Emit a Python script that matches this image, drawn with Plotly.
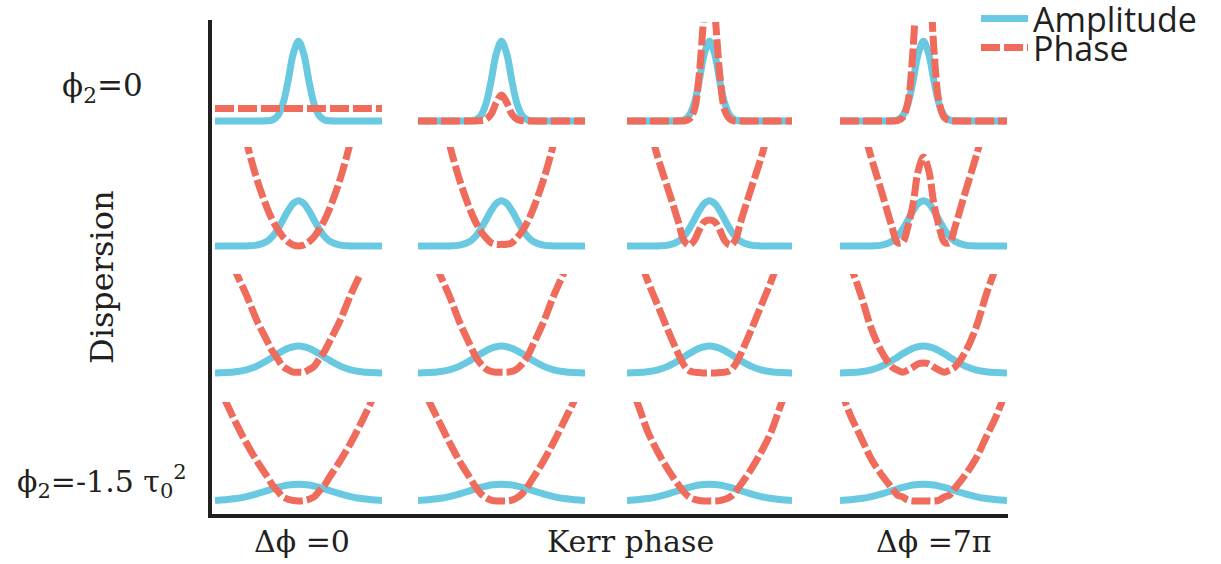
import plotly.graph_objects as go
from plotly.subplots import make_subplots

# Normalised time axis (pulse widths in units of tau_0)
t = [-4, -3.5, -3, -2.5, -2, -1.5, -1.25, -1, -0.75, -0.5, -0.25, 0,
     0.25, 0.5, 0.75, 1, 1.25, 1.5, 2, 2.5, 3, 3.5, 4]

# Amplitude envelopes, one per dispersion row (top: phi2 = 0, bottom: phi2 = -1.5 tau0^2)
amp_row1 = [0, 0, 0, 0, 0, 0.002, 0.012, 0.06, 0.2, 0.475, 0.8, 0.95,
            0.8, 0.475, 0.2, 0.06, 0.012, 0.002, 0, 0, 0, 0, 0]
amp_row2 = [0, 0, 0, 0.001, 0.01, 0.057, 0.113, 0.199, 0.307, 0.42, 0.507, 0.54,
            0.507, 0.42, 0.307, 0.199, 0.113, 0.057, 0.01, 0.001, 0, 0, 0]
amp_row3 = [0.001, 0.005, 0.015, 0.038, 0.082, 0.149, 0.188, 0.228, 0.264, 0.294, 0.313, 0.32,
            0.313, 0.294, 0.264, 0.228, 0.188, 0.149, 0.082, 0.038, 0.015, 0.005, 0.001]
amp_row4 = [0.007, 0.015, 0.029, 0.053, 0.085, 0.123, 0.143, 0.162, 0.177, 0.19, 0.197, 0.2,
            0.197, 0.19, 0.177, 0.162, 0.143, 0.123, 0.085, 0.053, 0.029, 0.015, 0.007]

# Phase profiles, columns go from no Kerr phase to 7*pi Kerr phase
ph_r1c1 = [0.15, 0.15, 0.15, 0.15, 0.15, 0.15, 0.15, 0.15, 0.15, 0.15, 0.15, 0.15,
           0.15, 0.15, 0.15, 0.15, 0.15, 0.15, 0.15, 0.15, 0.15, 0.15, 0.15]
ph_r1c2 = [0, 0, 0, 0, 0, 0, 0, 0.005, 0.02, 0.08, 0.22, 0.31,
           0.22, 0.08, 0.02, 0.005, 0, 0, 0, 0, 0, 0, 0]
ph_r1c3 = [0, 0, 0, 0, 0, 0, 0, 0.02, 0.12, 0.55, 1.3, 1.75,
           1.3, 0.55, 0.12, 0.02, 0, 0, 0, 0, 0, 0, 0]
ph_r1c4 = [0, 0, 0, 0, 0, 0, 0.003, 0.04, 0.22, 0.85, 2.0, 2.6,
           2.0, 0.85, 0.22, 0.04, 0.003, 0, 0, 0, 0, 0, 0]

ph_r2c1 = [3.2, 2.45, 1.8, 1.25, 0.8, 0.45, 0.31, 0.2, 0.11, 0.05, 0.012, 0,
           0.012, 0.05, 0.11, 0.2, 0.31, 0.45, 0.8, 1.25, 1.8, 2.45, 3.2]
ph_r2c2 = [3.1, 2.4, 1.78, 1.22, 0.78, 0.43, 0.29, 0.18, 0.1, 0.04, 0.02, 0.02,
           0.02, 0.04, 0.1, 0.18, 0.29, 0.43, 0.78, 1.22, 1.78, 2.4, 3.1]
ph_r2c3 = [2.6, 2.0, 1.5, 1.05, 0.67, 0.28, 0.07, 0.01, 0.06, 0.19, 0.29, 0.31,
           0.29, 0.19, 0.06, 0.01, 0.07, 0.28, 0.67, 1.05, 1.5, 2.0, 2.6]
ph_r2c4 = [2.6, 2.0, 1.5, 1.05, 0.64, 0.22, 0.04, 0.045, 0.23, 0.5, 0.9, 1.06,
           0.9, 0.5, 0.23, 0.045, 0.04, 0.22, 0.64, 1.05, 1.5, 2.0, 2.6]

ph_r3c1 = [1.8, 1.5, 1.2, 0.93, 0.63, 0.38, 0.26, 0.17, 0.08, 0.04, 0.01, 0.01,
           0.01, 0.04, 0.08, 0.17, 0.26, 0.38, 0.63, 0.93, 1.2, 1.5, 1.8]
ph_r3c2 = [1.8, 1.5, 1.2, 0.92, 0.6, 0.33, 0.2, 0.11, 0.05, 0.02, 0.01, 0.01,
           0.01, 0.02, 0.05, 0.11, 0.2, 0.33, 0.6, 0.92, 1.2, 1.5, 1.8]
ph_r3c3 = [1.8, 1.45, 1.1, 0.8, 0.5, 0.22, 0.1, 0.03, 0.01, 0.005, 0, 0,
           0, 0.005, 0.01, 0.03, 0.1, 0.22, 0.5, 0.8, 1.1, 1.45, 1.8]
ph_r3c4 = [1.6, 1.28, 0.93, 0.53, 0.25, 0.07, 0.035, 0.01, 0.035, 0.07, 0.11, 0.12,
           0.11, 0.07, 0.035, 0.01, 0.035, 0.07, 0.25, 0.53, 0.93, 1.28, 1.6]

ph_r4c1 = [1.45, 1.19, 0.93, 0.69, 0.48, 0.29, 0.19, 0.12, 0.05, 0.02, 0.005, 0,
           0.005, 0.02, 0.05, 0.12, 0.19, 0.29, 0.48, 0.69, 0.93, 1.19, 1.45]
ph_r4c2 = [1.45, 1.2, 0.95, 0.7, 0.47, 0.27, 0.17, 0.09, 0.04, 0.01, 0, 0,
           0, 0.01, 0.04, 0.09, 0.17, 0.27, 0.47, 0.7, 0.95, 1.2, 1.45]
ph_r4c3 = [1.45, 1.17, 0.83, 0.58, 0.37, 0.19, 0.11, 0.05, 0.02, 0.005, 0, 0,
           0, 0.005, 0.02, 0.05, 0.11, 0.19, 0.37, 0.58, 0.83, 1.17, 1.45]
ph_r4c4 = [1.35, 1.02, 0.76, 0.5, 0.31, 0.15, 0.07, 0.05, 0.01, 0, 0, 0,
           0, 0, 0.01, 0.05, 0.07, 0.15, 0.31, 0.5, 0.76, 1.02, 1.35]

amplitudes = [amp_row1, amp_row2, amp_row3, amp_row4]
phases = [
    [ph_r1c1, ph_r1c2, ph_r1c3, ph_r1c4],
    [ph_r2c1, ph_r2c2, ph_r2c3, ph_r2c4],
    [ph_r3c1, ph_r3c2, ph_r3c3, ph_r3c4],
    [ph_r4c1, ph_r4c2, ph_r4c3, ph_r4c4],
]

row_labels = ["ϕ<sub>2</sub>=0", "ϕ<sub>2</sub>=-1.5 τ<sub>0</sub><sup>2</sup>"]
side_label = "Dispersion"
bottom_labels = ["Δϕ =0", "Kerr phase", "Δϕ =7π"]

BLUE = "#68c9e1"
RED = "#ef6b5c"
INK = "#231f20"
SERIF = "DejaVu Serif"

W, H = 1221, 564
Y_RANGE = [-0.1, 1.18]
UNIT_PX = 84.0                       # pixels per unit of amplitude/phase
row_base_px = [121, 246, 373, 501]   # baseline of each row
col_left_px = [215, 418, 627, 840]
col_right_px = [382, 585, 792, 1007]

fig = make_subplots(rows=4, cols=4)

for r in range(4):
    for c in range(4):
        first = (r == 0 and c == 0)
        fig.add_trace(go.Scatter(
            x=t, y=amplitudes[r], mode="lines", line_shape="spline",
            line=dict(color=BLUE, width=7),
            name="Amplitude", showlegend=first, legend="legend",
            hoverinfo="skip"), row=r + 1, col=c + 1)
        fig.add_trace(go.Scatter(
            x=t, y=phases[r][c], mode="lines", line_shape="spline",
            line=dict(color=RED, width=7, dash="19px,4px"),
            name="Phase", showlegend=first, legend="legend2",
            hoverinfo="skip"), row=r + 1, col=c + 1)

# Place every panel precisely on the page
for r in range(4):
    bottom = row_base_px[r] - Y_RANGE[0] * UNIT_PX
    top = row_base_px[r] - Y_RANGE[1] * UNIT_PX
    for c in range(4):
        n = r * 4 + c + 1
        suffix = "" if n == 1 else str(n)
        fig.layout["xaxis" + suffix].update(
            domain=[col_left_px[c] / W, col_right_px[c] / W],
            range=[-4, 4], visible=False, fixedrange=True)
        fig.layout["yaxis" + suffix].update(
            domain=[1 - bottom / H, 1 - top / H],
            range=Y_RANGE, visible=False, fixedrange=True)

# L-shaped frame
fig.add_shape(type="line", xref="paper", yref="paper",
              x0=210 / W, x1=210 / W, y0=1 - 518 / H, y1=1 - 20 / H,
              line=dict(color=INK, width=4))
fig.add_shape(type="line", xref="paper", yref="paper",
              x0=208 / W, x1=1008 / W, y0=1 - 516 / H, y1=1 - 516 / H,
              line=dict(color=INK, width=4))

def label(text, x_px, y_px, size=30, angle=0):
    fig.add_annotation(text=text, x=x_px / W, y=1 - y_px / H, xref="paper", yref="paper",
                       showarrow=False, textangle=angle, xanchor="center", yanchor="middle",
                       font=dict(family=SERIF, size=size, color=INK))

label(row_labels[0], 102, 87, size=31)
label(side_label, 102, 277, size=32, angle=-90)
label(row_labels[1], 102, 481)
label(bottom_labels[0], 302, 541)
label(bottom_labels[1], 630, 541)
label(bottom_labels[2], 934, 541)

legend_font = dict(family="Open Sans", size=34, color=INK)
fig.update_layout(
    width=W, height=H,
    margin=dict(l=0, r=0, t=0, b=0, autoexpand=False),
    paper_bgcolor="white", plot_bgcolor="white",
    legend=dict(x=976 / W, y=1 + 10 / H, xanchor="left", yanchor="top",
                font=legend_font, itemwidth=47, bgcolor="rgba(0,0,0,0)",
                tracegroupgap=0),
    legend2=dict(x=976 / W, y=1 - 19 / H, xanchor="left", yanchor="top",
                 font=legend_font, itemwidth=47, bgcolor="rgba(0,0,0,0)",
                 tracegroupgap=0),
)

fig.write_html("out.html")
